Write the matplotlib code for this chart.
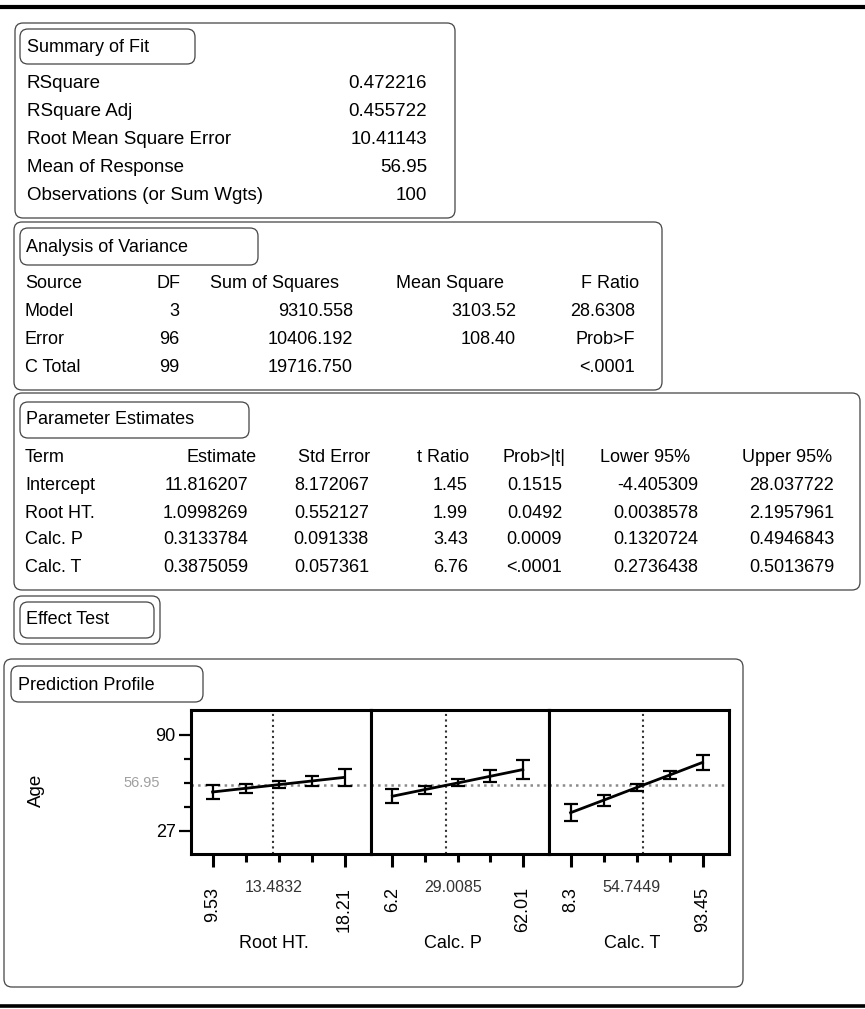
import matplotlib
matplotlib.use("Agg")
import matplotlib.pyplot as plt
from matplotlib.patches import FancyBboxPatch
import matplotlib.transforms as mtransforms

plt.rcParams['font.family'] = ['Liberation Sans', 'DejaVu Sans']

# Summary of Fit
fit_labels = ["RSquare", "RSquare Adj", "Root Mean Square Error", "Mean of Response",
              "Observations (or Sum Wgts)"]
fit_values = ["0.472216", "0.455722", "10.41143", "56.95", "100"]

# Analysis of Variance
anova_cols = ["Source", "DF", "Sum of Squares", "Mean Square", "F Ratio"]
anova_source = ["Model", "Error", "C Total"]
anova_df = ["3", "96", "99"]
anova_ss = ["9310.558", "10406.192", "19716.750"]
anova_ms = ["3103.52", "108.40", ""]
anova_f = ["28.6308", "Prob>F", "<.0001"]

# Parameter Estimates
pe_cols = ["Term", "Estimate", "Std Error", "t Ratio", "Prob>|t|", "Lower 95%", "Upper 95%"]
pe_terms = ["Intercept", "Root HT.", "Calc. P", "Calc. T"]
pe_estimate = ["11.816207", "1.0998269", "0.3133784", "0.3875059"]
pe_stderr = ["8.172067", "0.552127", "0.091338", "0.057361"]
pe_tratio = ["1.45", "1.99", "3.43", "6.76"]
pe_prob = ["0.1515", "0.0492", "0.0009", "<.0001"]
pe_lower = ["-4.405309", "0.0038578", "0.1320724", "0.2736438"]
pe_upper = ["28.037722", "2.1957961", "0.4946843", "0.5013679"]

# Prediction Profile
prof_names = ["Root HT.", "Calc. P", "Calc. T"]
prof_current = [13.4832, 29.0085, 54.7449]
prof_current_txt = ["13.4832", "29.0085", "54.7449"]
prof_min_txt = ["9.53", "6.2", "8.3"]
prof_max_txt = ["18.21", "62.01", "93.45"]
prof_x = [[9.53, 11.70, 13.87, 16.04, 18.21],
          [6.2, 20.15, 34.10, 48.06, 62.01],
          [8.3, 29.59, 50.88, 72.16, 93.45]]
prof_y = [[52.6, 55.0, 57.4, 59.8, 62.2],
          [49.8, 54.2, 58.5, 62.9, 67.3],
          [39.0, 47.2, 55.5, 63.7, 72.0]]
prof_err = [[4.8, 2.9, 2.1, 3.5, 5.6],
            [4.6, 2.6, 2.3, 4.0, 6.3],
            [5.7, 3.5, 2.1, 2.9, 4.9]]
age_mean = 56.95
age_ticks = [27, 90]
age_minor = [42.75, 58.5, 74.25]

W, H = 865, 1009
fig = plt.figure(figsize=(W / 100, H / 100), dpi=100)
ax = fig.add_axes([0, 0, 1, 1])
ax.set_xlim(0, W)
ax.set_ylim(H, 0)
ax.axis("off")

edge = "#444444"


def rbox(x0, y0, x1, y1, r=8, lw=0.9):
    p = FancyBboxPatch((x0, y0), x1 - x0, y1 - y0,
                       boxstyle="round,pad=0,rounding_size=%d" % r,
                       fc="none", ec=edge, lw=lw)
    ax.add_patch(p)


# thick rules top and bottom
ax.plot([0, W], [7, 7], color="black", lw=3)
ax.plot([0, W], [1006, 1006], color="black", lw=2.6)

# ---- Summary of Fit
rbox(15, 23, 455, 218)
rbox(20, 29, 195, 64)
ax.text(27, 47, "Summary of Fit", fontsize=13, va="center")
for i, (lab, val) in enumerate(zip(fit_labels, fit_values)):
    y = 84 + i * 27.8
    ax.text(27, y, lab, fontsize=13.5, va="center")
    ax.text(427, y, val, fontsize=13.5, va="center", ha="right")

# ---- Analysis of Variance
rbox(14, 222, 662, 390)
rbox(20, 228, 258, 265)
ax.text(26, 247, "Analysis of Variance", fontsize=13, va="center")
ay = [283, 312, 340, 368]
ax.text(25, ay[0], anova_cols[0], fontsize=13, va="center")
ax.text(181, ay[0], anova_cols[1], fontsize=13, va="center", ha="right")
ax.text(210, ay[0], anova_cols[2], fontsize=13, va="center")
ax.text(396, ay[0], anova_cols[3], fontsize=13, va="center")
ax.text(639, ay[0], anova_cols[4], fontsize=13, va="center", ha="right")
for i in range(3):
    y = ay[i + 1]
    ax.text(25, y, anova_source[i], fontsize=13, va="center")
    ax.text(179, y, anova_df[i], fontsize=13, va="center", ha="right")
    ax.text(353, y, anova_ss[i], fontsize=13, va="center", ha="right")
    ax.text(516, y, anova_ms[i], fontsize=13, va="center", ha="right")
    ax.text(635, y, anova_f[i], fontsize=13, va="center", ha="right")

# ---- Parameter Estimates
rbox(14, 393, 860, 590)
rbox(20, 402, 249, 438)
ax.text(26, 420, "Parameter Estimates", fontsize=13, va="center")
py = [457, 485, 513, 540, 568]
head_right = [257, 370, 469, 565, 690, 832]
val_right = [248, 369, 468, 562, 698, 834]
ax.text(25, py[0], pe_cols[0], fontsize=13, va="center")
for c, xr in zip(pe_cols[1:], head_right):
    ax.text(xr, py[0], c, fontsize=13, va="center", ha="right")
columns = [pe_estimate, pe_stderr, pe_tratio, pe_prob, pe_lower, pe_upper]
for i, term in enumerate(pe_terms):
    y = py[i + 1]
    ax.text(25, y, term, fontsize=13, va="center")
    for col, xr in zip(columns, val_right):
        ax.text(xr, y, col[i], fontsize=13, va="center", ha="right")

# ---- Effect Test
rbox(14, 596, 160, 644)
rbox(20, 602, 154, 638)
ax.text(26, 620, "Effect Test", fontsize=13, va="center")

# ---- Prediction Profile
rbox(4, 659, 743, 987)
rbox(11, 666, 203, 702)
ax.text(18, 685, "Prediction Profile", fontsize=13, va="center")
ax.text(36, 790, "Age", fontsize=13.5, va="center", ha="center", rotation=90)
ax.text(160, 783, "56.95", fontsize=10.5, va="center", ha="right", color="#a0a0a0")

panel_px = [(191, 371), (371, 549), (549, 729)]
top_px, bot_px = 710, 854
ylo, yhi = 11.9, 106.4
a_frac, b_frac = 0.12, 0.853

for i, (x0, x1) in enumerate(panel_px):
    pax = fig.add_axes([x0 / W, 1 - bot_px / H, (x1 - x0) / W, (bot_px - top_px) / H])
    xmin, xmax = prof_x[i][0], prof_x[i][-1]
    span = (xmax - xmin) / (b_frac - a_frac)
    lo = xmin - a_frac * span
    pax.set_xlim(lo, lo + span)
    pax.set_ylim(ylo, yhi)
    for s in pax.spines.values():
        s.set_linewidth(2.2)
    pax.axhline(age_mean, color="#8a8a8a", ls=":", lw=1.8, zorder=1)
    pax.axvline(prof_current[i], color="#333333", ls=":", lw=1.5, zorder=1)
    pax.plot(prof_x[i], prof_y[i], color="black", lw=2, zorder=3)
    pax.errorbar(prof_x[i], prof_y[i], yerr=prof_err[i], fmt="none", ecolor="black",
                 elinewidth=1.6, capsize=5, capthick=1.6, zorder=3)

    pax.set_xticks([xmin, xmax])
    pax.set_xticks(prof_x[i][1:-1], minor=True)
    pax.tick_params(axis="x", which="major", length=9.5, width=2.2, labelbottom=False)
    pax.tick_params(axis="x", which="minor", length=6, width=2.2, labelbottom=False)
    if i == 0:
        pax.set_yticks(age_ticks)
        pax.set_yticks(age_minor, minor=True)
        pax.tick_params(axis="y", which="major", length=9, width=1.6, labelsize=13, pad=2)
        pax.tick_params(axis="y", which="minor", length=5, width=1.6)
    else:
        pax.set_yticks([])
        pax.set_yticks([], minor=True)

    trans = mtransforms.blended_transform_factory(pax.transData, pax.transAxes)
    ytop = (bot_px - 887) / (bot_px - top_px)
    pax.text(xmin, ytop, prof_min_txt[i], transform=trans, rotation=90,
             fontsize=13, ha="center", va="top")
    pax.text(xmax, ytop, prof_max_txt[i], transform=trans, rotation=90,
             fontsize=13, ha="center", va="top")
    pax.text(0.46, (bot_px - 888) / (bot_px - top_px), prof_current_txt[i],
             transform=pax.transAxes, fontsize=11.5, ha="center", va="center", color="#333333")
    pax.text(0.46, (bot_px - 943) / (bot_px - top_px), prof_names[i],
             transform=pax.transAxes, fontsize=13, ha="center", va="center")

fig.savefig("out.png", dpi=100)
